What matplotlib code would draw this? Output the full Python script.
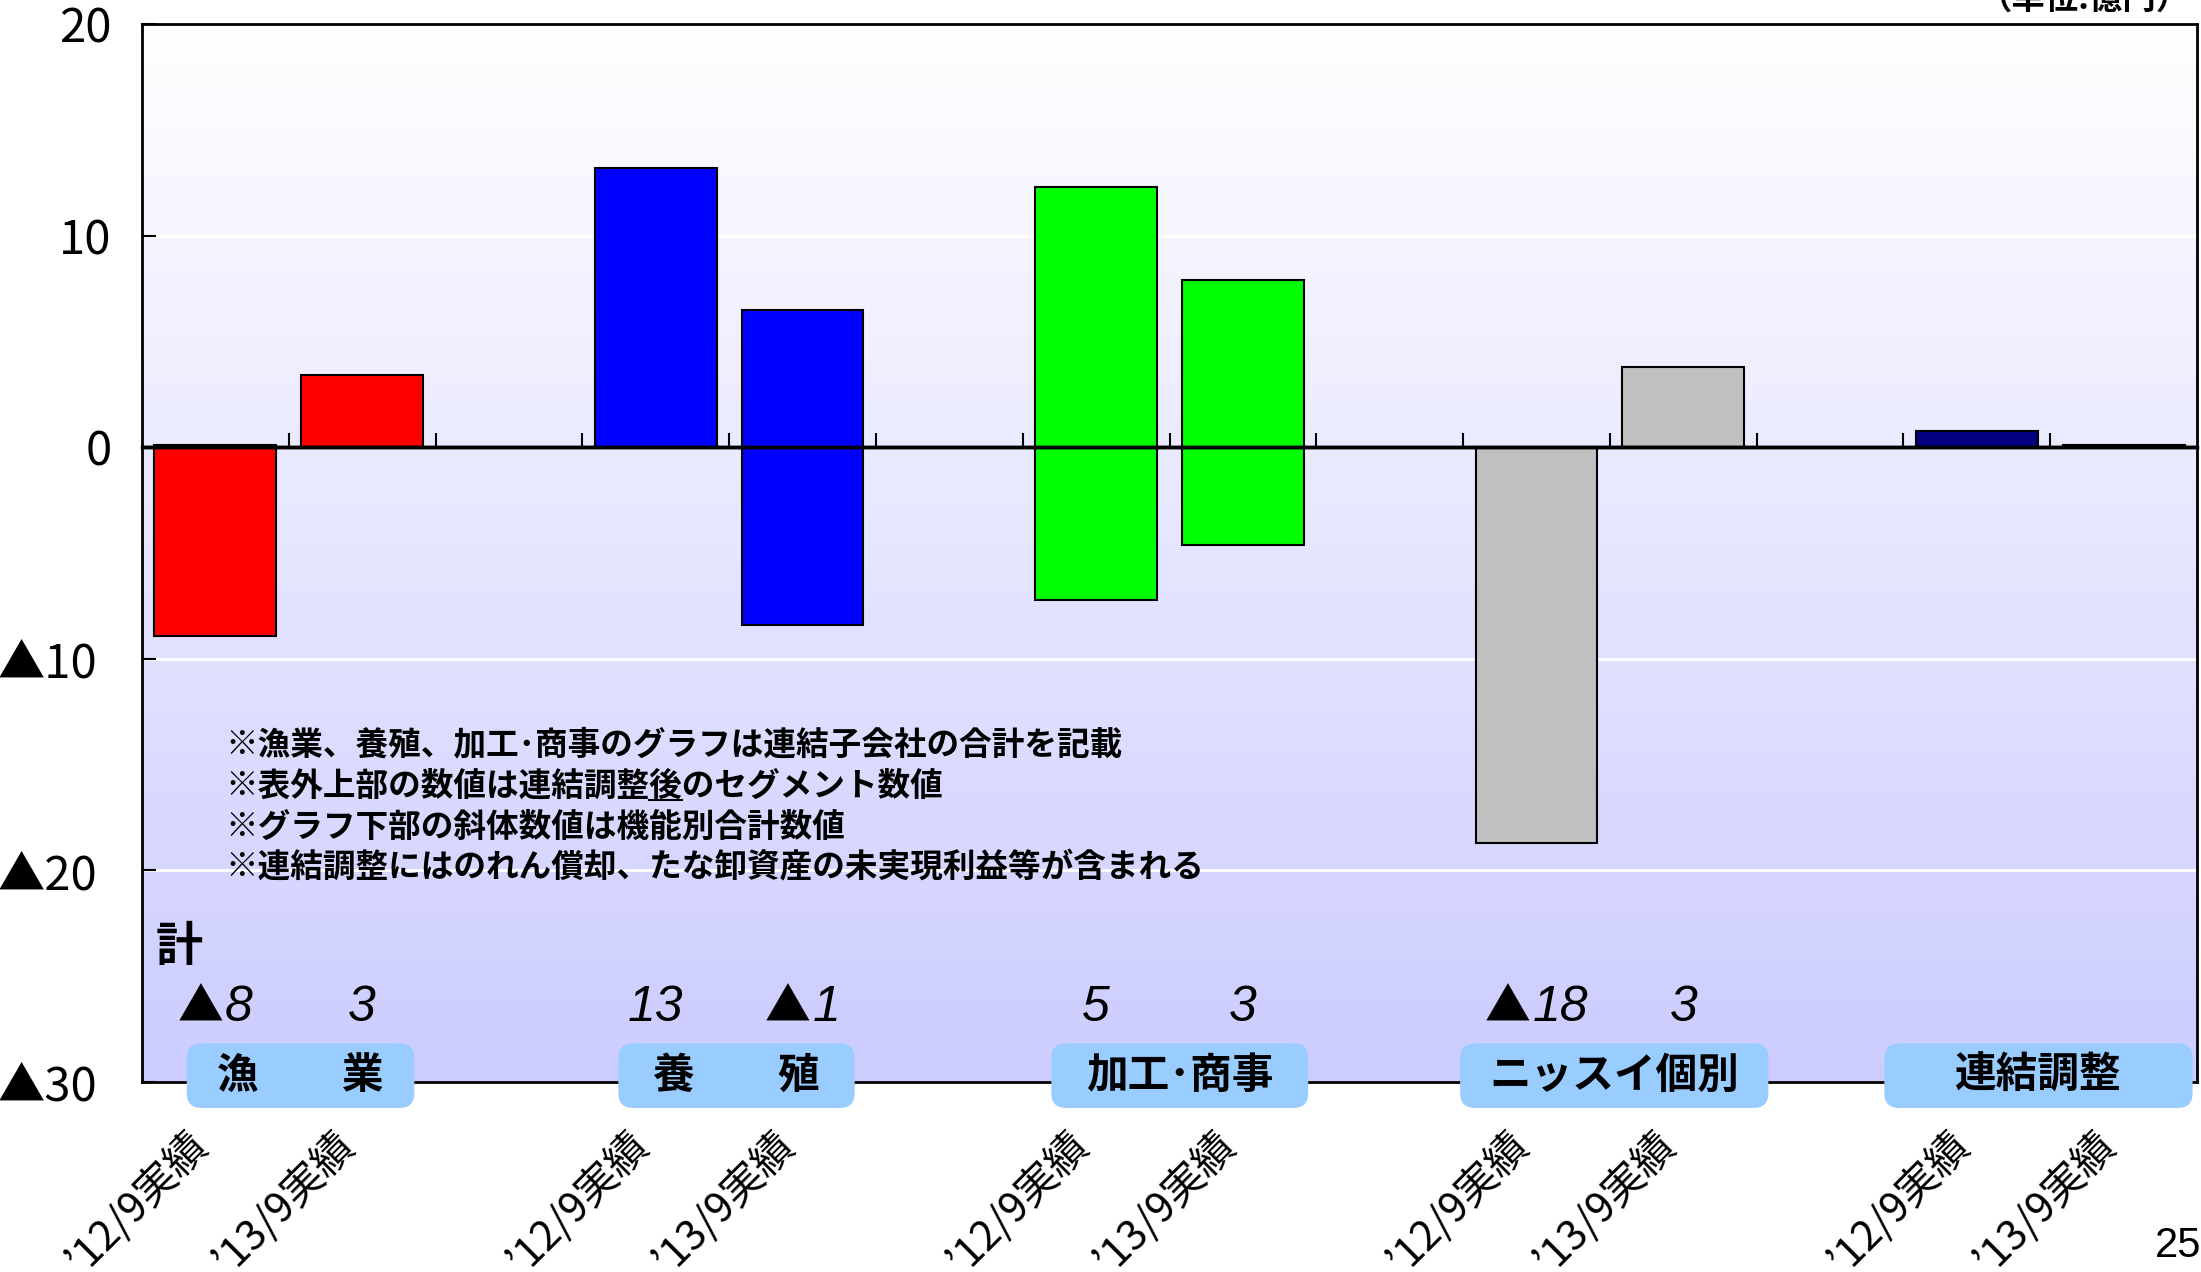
import numpy as np
import matplotlib
matplotlib.use('Agg')
import matplotlib.pyplot as plt
from matplotlib.lines import Line2D
from matplotlib.patches import FancyBboxPatch
from matplotlib.transforms import ScaledTranslation
from matplotlib.offsetbox import TextArea, HPacker, AnnotationBbox

plt.rcParams['font.family'] = ['Noto Sans CJK JP', 'DejaVu Sans']

# data (units: 100 million yen)
segments = ['漁　　業', '養　　殖', '加工･商事', 'ニッスイ個別', '連結調整']
periods = ['’12/9実績', '’13/9実績']
seg_colors = ['#FF0000', '#0000FF', '#00FF00', '#C0C0C0', '#000080']
bar_low = [-8.9, 0.0, 0.0, -8.4, -7.2, -4.6, -18.7, 0.0, 0.0, 0.0]
bar_high = [0.1, 3.4, 13.2, 6.5, 12.3, 7.9, 0.0, 3.8, 0.75, 0.12]
totals = ['▲8', '3', '13', '▲1', '5', '3', '▲18', '3']
ytick_vals = [20, 10, 0, -10, -20, -30]
ytick_text = ['20', '10', '0', '▲10', '▲20', '▲30']
notes = ['※漁業、養殖、加工･商事のグラフは連結子会社の合計を記載',
         '※表外上部の数値は連結調整後のセグメント数値',
         '※グラフ下部の斜体数値は機能別合計数値',
         '※連結調整にはのれん償却、たな卸資産の未実現利益等が含まれる']
underline_prefix = '※表外上部の数値は連結調整'
underline_char = '後'

italic_font = ['Liberation Sans', 'DejaVu Sans']

# each segment takes 3 slots: two bars and a gap
pos = [3 * g + k for g in range(len(segments)) for k in range(len(periods))]
colors = [seg_colors[g] for g in range(len(segments)) for k in range(len(periods))]

# label box layout (data x units)
box_x = [0.58, 3.55, 6.57, 9.53, 12.42]
box_w = [1.55, 1.61, 1.75, 2.10, 2.10]

fig = plt.figure(figsize=(22.01, 12.72), dpi=100)
ax = fig.add_axes([142 / 2201, 1 - 1082 / 1272, 2055 / 2201, 1058 / 1272])

# background gradient white -> lavender
grad = np.linspace(0, 1, 256)[:, None, None]
top = np.array([1.0, 1.0, 1.0])
bot = np.array([0.80, 0.80, 1.0])
img = top * (1 - grad) + bot * grad
ax.imshow(img, extent=[-0.5, 13.5, -30, 20], aspect='auto', zorder=0, origin='upper')

ax.bar(pos, np.array(bar_high) - np.array(bar_low), bottom=bar_low, width=0.83,
       color=colors, edgecolor='black', linewidth=1.5, zorder=2)

ax.set_xlim(-0.5, 13.5)
ax.set_ylim(-30, 20)
ax.set_yticks(ytick_vals)
ax.set_yticklabels(ytick_text, fontsize=34)
ax.tick_params(axis='y', direction='in', length=10, width=1.5, pad=22)
# negative labels sit a little further left on the slide
neg_shift = ScaledTranslation(-0.14, 0, fig.dpi_scale_trans)
for lbl in ax.get_yticklabels():
    if lbl.get_text().startswith('▲'):
        lbl.set_transform(lbl.get_transform() + neg_shift)
ax.yaxis.grid(True, color='white', linewidth=2)
ax.set_axisbelow(True)
for s in ax.spines.values():
    s.set_linewidth(2)

ax.set_xticks(pos)
ax.set_xticklabels(periods * len(segments), fontsize=30, rotation=45,
                   ha='right', va='top', rotation_mode='anchor')
ax.tick_params(axis='x', length=0, pad=30)
shift = ScaledTranslation(-0.3, 0, fig.dpi_scale_trans)
for lbl in ax.get_xticklabels():
    lbl.set_transform(lbl.get_transform() + shift)

# zero line with category-boundary ticks
ax.axhline(0, color='black', linewidth=2.5, zorder=3)
sec = ax.secondary_xaxis(0.6)
sec.set_zorder(3)
sec.set_xticks(np.arange(0.5, 13, 1))
sec.tick_params(direction='out', length=10, width=1.5,
                labelbottom=False, labeltop=False)
for s in sec.spines.values():
    s.set_linewidth(2.5)

# functional totals: big triangle + italic digits
ax.text(-0.41, -23.6, '計', fontsize=34, fontweight='bold', va='center', ha='left')
for p, t in zip(pos, totals):
    parts = []
    if t.startswith('▲'):
        parts.append(TextArea('▲', textprops=dict(fontsize=33, family='Noto Sans CJK JP')))
        t = t[1:]
    parts.append(TextArea(t, textprops=dict(fontsize=36, style='italic', family=italic_font)))
    pack = HPacker(children=parts, align='baseline', pad=0, sep=1)
    ab = AnnotationBbox(pack, (p, -26.5), xycoords='data', frameon=False,
                        box_alignment=(0.5, 0.5), pad=0, zorder=4)
    ax.add_artist(ab)

# segment name boxes, round corners kept circular in pixel space
px_x = ax.transData.transform((1, 0))[0] - ax.transData.transform((0, 0))[0]
px_y = ax.transData.transform((0, 1))[1] - ax.transData.transform((0, 0))[1]
aspect = px_x / px_y
box_h = 3.05
for x, w, name in zip(box_x, box_w, segments):
    ax.add_patch(FancyBboxPatch((x - w / 2, -29.7 - box_h / 2), w, box_h,
                                boxstyle='round,pad=0,rounding_size=0.1',
                                mutation_aspect=aspect, fc='#99CCFF', ec='none',
                                zorder=5, clip_on=False))
    ax.text(x, -29.7, name, fontsize=30, fontweight='bold', ha='center', va='center',
            zorder=6, clip_on=False)

# notes
note_y = [-14.05, -16.0, -17.95, -19.9]
note_props = dict(fontsize=23.5, fontweight='bold', ha='left', va='center', zorder=4)
for y, line in zip(note_y, notes):
    ax.text(0.065, y, line, **note_props)

fig.text(0.995, 1 - 9 / 1272, '（単位:億円）', fontsize=24, fontweight='bold',
         ha='right', va='baseline')
fig.text(1.0, 1 - 1246 / 1272, '25', fontsize=30, family=['Liberation Sans', 'DejaVu Sans'],
         ha='right', va='center')

# underline the single character in the second note line
fig.canvas.draw()
r = fig.canvas.get_renderer()
t1 = ax.text(0.065, note_y[1], underline_prefix, alpha=0, **note_props)
t2 = ax.text(0.065, note_y[1], underline_prefix + underline_char, alpha=0, **note_props)
b1 = t1.get_window_extent(r)
b2 = t2.get_window_extent(r)
inv = fig.transFigure.inverted()
ybase = b1.y0 + 0.08 * (b1.y1 - b1.y0)
(x0, y0), (x1, _) = inv.transform([(b1.x1, ybase), (b2.x1, ybase)])
fig.add_artist(Line2D([x0, x1], [y0, y0], color='black', linewidth=1.5))

fig.savefig('out.png', dpi=100)
